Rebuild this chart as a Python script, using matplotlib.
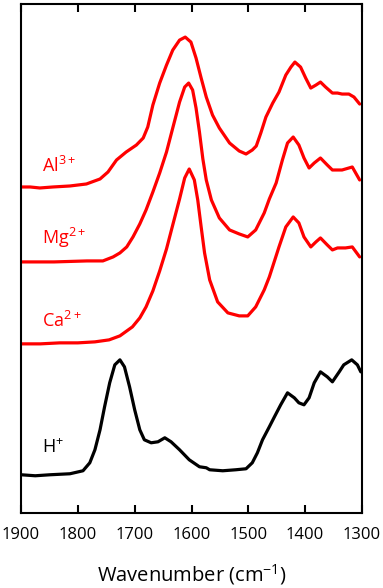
import matplotlib
matplotlib.use("Agg")
import matplotlib.pyplot as plt
import numpy as np

plt.rcParams['font.family'] = ['Open Sans', 'DejaVu Sans']
plt.rcParams['mathtext.fontset'] = 'custom'
plt.rcParams['mathtext.rm'] = 'Open Sans'

# spectra: wavenumber (cm-1) and absorbance above each baseline (a.u.)
al_wn = [1900, 1884, 1867, 1844, 1814, 1785, 1761, 1747, 1732, 1715, 1697, 1685, 1677,
         1668, 1656, 1644, 1633, 1621, 1611, 1601, 1592, 1583, 1574, 1563, 1551, 1533,
         1516, 1504, 1493, 1486, 1478, 1469, 1457, 1446, 1434, 1425, 1418, 1408, 1399,
         1390, 1381, 1373, 1364, 1352, 1343, 1335, 1323, 1314, 1304]
al_y = [0.00, 0.00, -0.01, 0.00, 0.01, 0.03, 0.08, 0.15, 0.27, 0.35, 0.42, 0.49, 0.60,
        0.82, 1.04, 1.22, 1.37, 1.47, 1.50, 1.45, 1.29, 1.09, 0.90, 0.72, 0.59, 0.44,
        0.36, 0.33, 0.37, 0.41, 0.54, 0.70, 0.84, 0.95, 1.12, 1.20, 1.25, 1.20, 1.09,
        0.99, 1.02, 1.05, 1.00, 0.94, 0.94, 0.93, 0.93, 0.90, 0.83]

mg_wn = [1900, 1842, 1784, 1756, 1738, 1726, 1714, 1703, 1691, 1680, 1668, 1656, 1644,
         1633, 1621, 1612, 1605, 1598, 1592, 1586, 1580, 1574, 1565, 1551, 1533, 1516,
         1501, 1487, 1472, 1463, 1451, 1440, 1431, 1421, 1411, 1402, 1393, 1384, 1373,
         1361, 1352, 1335, 1317, 1304]
mg_y = [0.00, 0.00, 0.01, 0.01, 0.05, 0.09, 0.15, 0.25, 0.38, 0.52, 0.70, 0.89, 1.10,
        1.34, 1.60, 1.75, 1.79, 1.72, 1.54, 1.30, 1.03, 0.82, 0.62, 0.44, 0.32, 0.28,
        0.25, 0.32, 0.49, 0.63, 0.79, 1.02, 1.19, 1.25, 1.17, 1.04, 0.94, 0.99, 1.04,
        0.97, 0.92, 0.92, 0.95, 0.82]

ca_wn = [1900, 1866, 1832, 1800, 1770, 1745, 1726, 1704, 1691, 1680, 1668, 1656, 1644,
         1633, 1621, 1612, 1604, 1595, 1589, 1583, 1577, 1568, 1554, 1536, 1516, 1501,
         1487, 1472, 1463, 1446, 1434, 1421, 1411, 1402, 1390, 1381, 1373, 1361, 1352,
         1343, 1329, 1317, 1304]
ca_y = [0.00, 0.00, 0.01, 0.01, 0.02, 0.04, 0.08, 0.17, 0.26, 0.37, 0.53, 0.73, 0.95,
        1.19, 1.45, 1.66, 1.75, 1.64, 1.44, 1.17, 0.91, 0.64, 0.42, 0.31, 0.28, 0.28,
        0.37, 0.54, 0.67, 0.97, 1.17, 1.27, 1.21, 1.07, 0.97, 1.02, 1.06, 0.99, 0.94,
        0.96, 0.96, 0.97, 0.87]

h_wn = [1900, 1875, 1849, 1814, 1791, 1779, 1770, 1761, 1753, 1744, 1735, 1726, 1718,
        1709, 1700, 1691, 1683, 1671, 1659, 1647, 1636, 1621, 1604, 1586, 1574, 1568,
        1545, 1522, 1504, 1493, 1484, 1475, 1463, 1454, 1443, 1431, 1419, 1411, 1402,
        1393, 1384, 1373, 1361, 1352, 1340, 1332, 1318, 1308, 1302]
h_y = [0.00, -0.01, 0.00, 0.01, 0.04, 0.12, 0.25, 0.45, 0.68, 0.92, 1.10, 1.15, 1.08,
       0.88, 0.65, 0.45, 0.35, 0.32, 0.33, 0.37, 0.33, 0.25, 0.15, 0.08, 0.07, 0.05,
       0.04, 0.05, 0.06, 0.12, 0.22, 0.35, 0.48, 0.58, 0.70, 0.82, 0.77, 0.72, 0.70,
       0.77, 0.92, 1.03, 0.98, 0.93, 1.03, 1.10, 1.15, 1.10, 1.03]

labels = ['Al$^{3+}$', 'Mg$^{2+}$', 'Ca$^{2+}$', 'H$^{+}$']
offsets = [3.26, 2.51, 1.69, 0.38]
colors = ['#ff0000', '#ff0000', '#ff0000', '#000000']
label_y = [3.41, 2.69, 1.86, 0.60]

fig = plt.figure(figsize=(3.83, 5.88), dpi=100)
ax = fig.add_axes([0.055, 0.128, 0.89, 0.865])

spectra = [(al_wn, al_y), (mg_wn, mg_y), (ca_wn, ca_y), (h_wn, h_y)]
for (wn, y), off, c, lab, ly in zip(spectra, offsets, colors, labels, label_y):
    ax.plot(wn, np.array(y) + off, color=c, lw=2.3,
            solid_joinstyle='round', solid_capstyle='round')
    ax.text(1863, ly, lab, color=c, fontsize=13, ha='left', va='baseline')

ax.set_xlim(1900, 1300)
ax.set_ylim(0, 5.09)
ax.set_xticks(np.arange(1900, 1299, -100))
ax.set_yticks([])
ax.tick_params(axis='x', direction='in', length=6, width=1.5, top=True,
               labelsize=12, pad=10)
for s in ax.spines.values():
    s.set_linewidth(1.5)
ax.set_xlabel('Wavenumber (cm$^{-1}$)', fontsize=14.5, labelpad=14)

fig.savefig('out.png', dpi=100)
